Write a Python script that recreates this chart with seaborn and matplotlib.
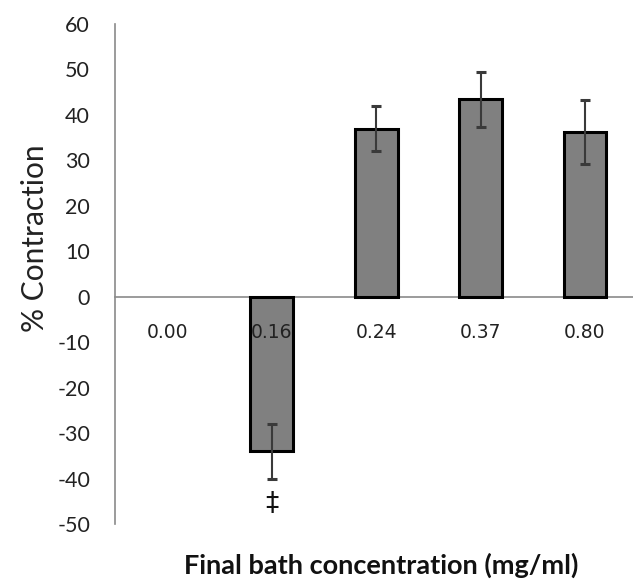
import numpy as np
import pandas as pd
import matplotlib.pyplot as plt
import seaborn as sns
from matplotlib.ticker import MultipleLocator, FixedLocator

concentrations = ["0.00", "0.16", "0.24", "0.37", "0.80"]
contraction = [0, -34, 37, 43.4, 36.3]
sem = [0, 6, 5, 6, 7]
sig_marks = ["", "\u2021", "", "", ""]
sig_y = [None, -45.5, None, None, None]

sns.set_theme(style="white")
plt.rcParams['font.family'] = ['Lato', 'DejaVu Sans']
plt.rcParams['axes.unicode_minus'] = False

df = pd.DataFrame({"conc": concentrations, "val": contraction})

fig = plt.figure(figsize=(6.33, 5.8), dpi=100)
ax = fig.add_axes([0.1817, 0.0966, 0.8183, 0.862])

sns.barplot(data=df, x="conc", y="val", order=concentrations, color="#808080",
            saturation=1, width=0.41, edgecolor="black", linewidth=2.2, ax=ax)
# empty bar at 0.00 has no visible outline in the original
for p in ax.patches:
    if p.get_height() == 0:
        p.set_linewidth(0)
ax.errorbar(np.arange(len(concentrations))[1:], contraction[1:], yerr=sem[1:],
            fmt="none", ecolor="#3a3a3a", elinewidth=1.5, capsize=3.5, capthick=2.2)

for i, (m, y) in enumerate(zip(sig_marks, sig_y)):
    if m:
        ax.text(i, y, m, ha="center", va="center", fontsize=19, family="DejaVu Sans",
                color="#111111")

ax.set_axisbelow(False)
ax.set_ylim(-50, 60)
ax.set_xlim(-0.5, 4.46)
ax.yaxis.set_major_locator(MultipleLocator(10))

for s in ["top", "right"]:
    ax.spines[s].set_visible(False)
ax.spines["bottom"].set_position(("data", 0))
for s in ["left", "bottom"]:
    ax.spines[s].set_color("#8a8a8a")
    ax.spines[s].set_linewidth(1.2)
    ax.spines[s].set_zorder(0.8)

ax.set_xticks(range(len(concentrations)))
ax.set_xticklabels(concentrations, family="DejaVu Sans", fontsize=13.5, color="#222222")
ax.tick_params(axis="x", which="major", length=0, pad=19)
ax.xaxis.set_minor_locator(FixedLocator([0.5, 1.5, 2.5, 3.5]))
ax.tick_params(axis="x", which="minor", length=6, width=1.2, color="#8a8a8a", direction="out")
ax.tick_params(axis="y", length=6, width=1.2, color="#8a8a8a", direction="out",
               labelsize=15.5, labelcolor="#222222", pad=12)

ax.set_ylabel("% Contraction", fontsize=21.5, color="#222222")
ax.yaxis.set_label_coords(-0.154, 0.572)
ax.yaxis.label.set_va("center")
ax.set_xlabel("Final bath concentration (mg/ml)", fontsize=19.5, fontweight="bold", color="#111111")
ax.xaxis.set_label_coords(0.514, -0.082)
ax.xaxis.label.set_va("center")

fig.savefig("out.png", dpi=100)
